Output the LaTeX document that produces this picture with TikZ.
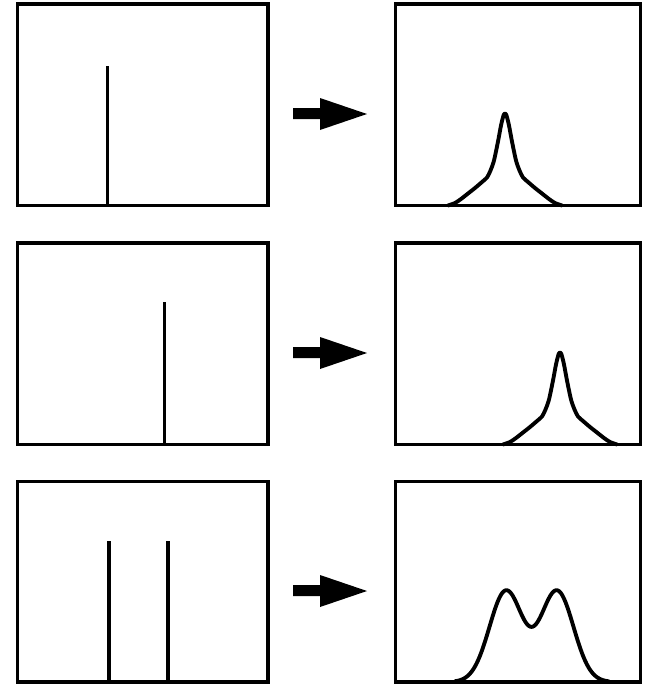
\documentclass[tikz,border=0pt]{standalone}
\begin{document}
\begin{tikzpicture}[x=0.75pt,y=-0.75pt,
  frame/.style={draw=black,line width=2.3pt},
  spike/.style={draw=black,line width=2.9pt},
  peak/.style={draw=black,line width=2.9pt,line join=round,line cap=round},
  blockarrow/.style={fill=black}]
\useasboundingbox (0,0) rectangle (648,686);
\def\singlepeak{plot[smooth,tension=0.45] coordinates {(-57,0) (-50,-2.5) (-44,-6.5) (-37,-12) (-30,-17.5) (-23,-23.5) (-18,-28) (-14.5,-35) (-11,-45) (-7,-64) (-4,-80) (-1.5,-90) (0,-92) (1.5,-90) (4,-80) (7,-64) (11,-45) (14.5,-35) (18,-28) (23,-23.5) (30,-17.5) (37,-12) (44,-6.5) (50,-2.5) (57,0)}}
% ---------- row 1 ----------
\draw[frame] (17.5,4) rectangle (268,205.5);
\draw[spike] (107.5,205.5) -- (107.5,66);
\fill[blockarrow] (293,108) -- (320,108) -- (320,98) -- (367,114) -- (320,130) -- (320,119) -- (293,119) -- cycle;
\draw[frame] (395.5,4) rectangle (640.5,205.5);
\begin{scope}[shift={(505,205.5)}]
  \draw[peak] \singlepeak;
\end{scope}
% ---------- row 2 ----------
\draw[frame] (17.5,243) rectangle (268,444.5);
\draw[spike] (164.5,444.5) -- (164.5,302);
\fill[blockarrow] (293,347) -- (320,347) -- (320,337) -- (367,353) -- (320,369) -- (320,358) -- (293,358) -- cycle;
\draw[frame] (395.5,243) rectangle (640.5,444.5);
\begin{scope}[shift={(560,444.5)}]
  \draw[peak] \singlepeak;
\end{scope}
% ---------- row 3 ----------
\draw[frame] (17.5,481.5) rectangle (268,682);
\draw[spike] (109,682) -- (109,541);
\draw[spike] (168,682) -- (168,541);
\fill[blockarrow] (293,585) -- (320,585) -- (320,575) -- (367,591) -- (320,607) -- (320,596) -- (293,596) -- cycle;
\draw[frame] (395.5,481.5) rectangle (640.5,682);
\draw[peak] plot[domain=455:609,samples=181,smooth] (\x,{682-91*(exp(-((\x-506)^2)/544.5)+exp(-((\x-557)^2)/544.5))});
\end{tikzpicture}
\end{document}
